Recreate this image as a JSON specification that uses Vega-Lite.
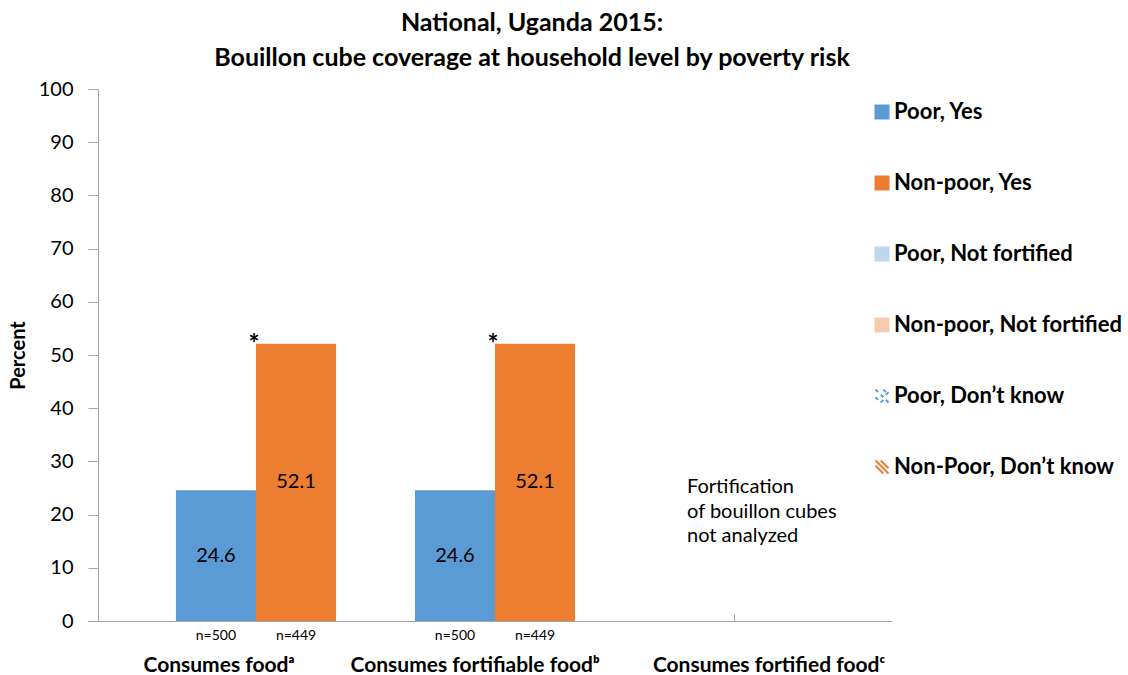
{
  "$schema": "https://vega.github.io/schema/vega-lite/v6.json",
  "width": 794,
  "height": 532,
  "autosize": {"type": "none"},
  "padding": {"left": 98, "top": 89, "right": 236, "bottom": 54},
  "background": "white",
  "title": {
    "text": ["National, Uganda 2015:", "Bouillon cube coverage at household level by poverty risk"],
    "font": "Lato",
    "fontSize": 25,
    "fontWeight": "bold",
    "color": "#000000",
    "anchor": "middle",
    "frame": "group",
    "dx": 37,
    "offset": 8,
    "lineHeight": 35
  },
  "config": {
    "font": "Lato",
    "view": {"stroke": null},
    "legend": {
      "orient": "none",
      "legendX": 773,
      "legendY": 12,
      "padding": 0,
      "labelFont": "Lato",
      "labelFontSize": 22,
      "labelFontWeight": "bold",
      "labelColor": "#000000",
      "labelLimit": 400,
      "labelOffset": 1,
      "rowPadding": 49,
      "symbolSize": 169,
      "symbolStrokeWidth": 2
    }
  },
  "datasets": {
    "bars": [
      {"cat": "Consumes foodᵃ", "group": "Poor, Yes", "value": 24.6, "n": "n=500", "sig": ""},
      {"cat": "Consumes foodᵃ", "group": "Non-poor, Yes", "value": 52.1, "n": "n=449", "sig": "*"},
      {"cat": "Consumes fortifiable foodᵇ", "group": "Poor, Yes", "value": 24.6, "n": "n=500", "sig": ""},
      {"cat": "Consumes fortifiable foodᵇ", "group": "Non-poor, Yes", "value": 52.1, "n": "n=449", "sig": "*"}
    ],
    "legendrows": [
      {"group": "Poor, Yes"},
      {"group": "Non-poor, Yes"},
      {"group": "Poor, Not fortified"},
      {"group": "Non-poor, Not fortified"},
      {"group": "Poor, Don’t know"},
      {"group": "Non-Poor, Don’t know"}
    ]
  },
  "resolve": {"scale": {"y": "independent"}},
  "layer": [
    {
      "layer": [
        {
          "data": {"name": "bars"},
          "mark": {"type": "bar", "strokeWidth": 0},
          "encoding": {
            "x": {
              "field": "cat",
              "type": "nominal",
              "sort": null,
              "scale": {"domain": ["Consumes foodᵃ", "Consumes fortifiable foodᵇ", "Consumes fortified foodᶜ"], "paddingInner": 0.33, "paddingOuter": 0.326},
              "axis": {
                "title": null,
                "labelAngle": 0,
                "labelFont": "Lato",
                "labelFontSize": 21,
                "labelFontWeight": "bold",
                "labelColor": "#000000",
                "labelPadding": 40,
                "labelBaseline": "top",
                "labelLimit": 400,
                "labelOffset": {
                  "condition": [
                    {"test": "datum.value === 'Consumes foodᵃ'", "value": -37},
                    {"test": "datum.value === 'Consumes fortifiable foodᵇ'", "value": -20}
                  ],
                  "value": 35
                },
                "tickSize": -7,
                "tickColor": "#A6A6A6",
                "domainColor": "#A6A6A6"
              }
            },
            "xOffset": {
              "field": "group",
              "type": "nominal",
              "scale": {"domain": ["Poor, Yes", "Non-poor, Yes"], "paddingInner": 0, "paddingOuter": 0}
            },
            "y": {
              "field": "value",
              "type": "quantitative",
              "scale": {"domain": [0, 100]},
              "axis": {
                "values": [0, 10, 20, 30, 40, 50, 60, 70, 80, 90, 100],
                "grid": false,
                "title": "Percent",
                "titleFont": "Lato",
                "titleFontSize": 20,
                "titleFontWeight": "bold",
                "titleColor": "#000000",
                "titlePadding": 10,
                "labelFont": "Lato",
                "labelFontSize": 20,
                "labelColor": "#000000",
                "labelPadding": 15,
                "tickSize": 10,
                "tickColor": "#A6A6A6",
                "domainColor": "#A6A6A6"
              }
            },
            "fill": {
              "field": "group",
              "type": "nominal",
              "title": null,
              "scale": {
                "domain": ["Poor, Yes", "Non-poor, Yes", "Poor, Not fortified", "Non-poor, Not fortified", "Poor, Don’t know", "Non-Poor, Don’t know"],
                "range": ["#5B9BD5", "#ED7D31", "#BDD7EE", "#F8CBAD", "#5B9BD5", "#ED7D31"]
              }
            }
          }
        },
        {
          "data": {"name": "bars"},
          "mark": {"type": "text", "font": "Lato", "fontSize": 26, "fontWeight": "bold", "color": "#000000", "baseline": "alphabetic", "align": "center", "dx": -2, "dy": 9},
          "encoding": {
            "x": {"field": "cat", "type": "nominal", "sort": null},
            "y": {"field": "value", "type": "quantitative"},
            "text": {"field": "sig", "type": "nominal"}
          }
        },
        {
          "data": {"name": "bars"},
          "mark": {"type": "text", "font": "Lato", "fontSize": 14, "color": "#000000", "baseline": "middle", "align": "center", "dy": 15},
          "encoding": {
            "x": {"field": "cat", "type": "nominal", "sort": null},
            "xOffset": {"field": "group", "type": "nominal"},
            "y": {"datum": 0, "type": "quantitative"},
            "text": {"field": "n", "type": "nominal"}
          }
        },
        {
          "data": {"values": [{"cat": "Consumes fortified foodᶜ", "note": ["Fortification", "of bouillon cubes", " not analyzed"]}]},
          "mark": {"type": "text", "font": "Lato", "fontSize": 20, "color": "#000000", "baseline": "top", "align": "left", "dx": -47, "lineHeight": 24.5},
          "encoding": {
            "x": {"field": "cat", "type": "nominal", "sort": null},
            "y": {"datum": 27, "type": "quantitative"},
            "text": {"field": "note"}
          }
        },
        {
          "data": {"name": "legendrows"},
          "transform": [{"filter": "datum.group == 'none'"}],
          "mark": {"type": "point", "filled": true, "opacity": 1, "strokeWidth": 2},
          "encoding": {
            "fill": {
              "field": "group",
              "type": "nominal",
              "title": null,
              "scale": {
                "domain": ["Poor, Yes", "Non-poor, Yes", "Poor, Not fortified", "Non-poor, Not fortified", "Poor, Don’t know", "Non-Poor, Don’t know"],
                "range": ["#5B9BD5", "#ED7D31", "#BDD7EE", "#F8CBAD", "#5B9BD5", "#ED7D31"]
              }
            },
            "stroke": {
              "field": "group",
              "type": "nominal",
              "title": null,
              "scale": {
                "domain": ["Poor, Yes", "Non-poor, Yes", "Poor, Not fortified", "Non-poor, Not fortified", "Poor, Don’t know", "Non-Poor, Don’t know"],
                "range": ["#5B9BD5", "#ED7D31", "#BDD7EE", "#F8CBAD", "#5B9BD5", "#ED7D31"]
              }
            },
            "shape": {
              "field": "group",
              "type": "nominal",
              "title": null,
              "scale": {
                "domain": ["Poor, Yes", "Non-poor, Yes", "Poor, Not fortified", "Non-poor, Not fortified", "Poor, Don’t know", "Non-Poor, Don’t know"],
                "range": ["square", "square", "square", "square",
                  "M-1,-1L-0.6,-0.6M-0.2,-0.2L0.2,0.2M0.6,0.6L1,1M0.2,-1L0.6,-0.6M-1,0.2L-0.6,0.6M-0.2,1L0.2,0.6M0.6,-0.2L1,-0.6",
                  "M-1,-0.2L0.2,1M-1,-1L1,1M-0.2,-1L1,0.2"]
              }
            }
          }
        }
      ]
    },
    {
      "data": {"name": "bars"},
      "mark": {"type": "text", "font": "Lato", "fontSize": 20, "color": "#000000", "baseline": "middle", "align": "center"},
      "encoding": {
        "x": {"field": "cat", "type": "nominal", "sort": null},
        "xOffset": {"field": "group", "type": "nominal"},
        "y": {"field": "value", "type": "quantitative", "scale": {"domain": [0, 200]}, "axis": null},
        "text": {"field": "value", "type": "quantitative", "format": ".1f"}
      }
    }
  ]
}
